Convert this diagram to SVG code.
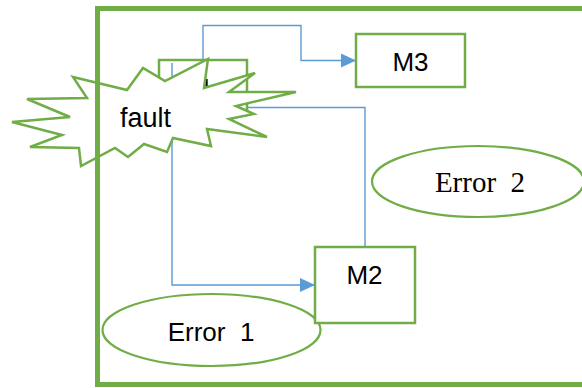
<svg xmlns="http://www.w3.org/2000/svg" width="582" height="388" viewBox="0 0 582 388">
<style>
.box{fill:#fff;stroke:#70AD47;stroke-width:2.5}
.ell{fill:#fff;stroke:#70AD47;stroke-width:2.2}
.con{fill:none;stroke:#5B9BD5;stroke-width:1.4}
.sans{font-family:"Liberation Sans",Arial,sans-serif;font-size:26px;fill:#000}
.serif{font-family:"Liberation Serif","Times New Roman",serif;font-size:29px;fill:#000}
</style>
<defs>
<marker id="arr" viewBox="0 0 15 14" refX="15" refY="7" markerWidth="15" markerHeight="14" markerUnits="userSpaceOnUse" orient="auto">
<path d="M0,0 L15,7 L0,14 Z" fill="#5B9BD5"/>
</marker>
</defs>
<rect width="582" height="388" fill="#fff"/>
<g id="error2">
<ellipse class="ell" cx="478" cy="181.5" rx="106" ry="35.5"/>
<text class="serif" x="480" y="192" text-anchor="middle" xml:space="preserve">Error  2</text>
</g>
<g id="error1">
<ellipse class="ell" cx="211.5" cy="330" rx="109" ry="36"/>
<text class="sans" x="211" y="341" text-anchor="middle" xml:space="preserve">Error  1</text>
</g>
<g id="M3">
<rect class="box" x="356" y="34" width="109" height="53"/>
<text class="sans" x="410.5" y="71" text-anchor="middle">M3</text>
</g>
<g id="M2">
<rect class="box" x="315" y="247" width="100" height="76"/>
<text class="sans" x="364.5" y="284" text-anchor="middle">M2</text>
</g>
<g id="M1">
<rect class="box" x="159" y="60" width="88" height="53"/>
<text class="sans" x="177" y="97">M1</text>
</g>
<g id="connectors">
<path class="con" d="M203,60 V25.5 H301 V60.5 H356" marker-end="url(#arr)"/>
<path class="con" d="M247,107.5 H365 V247"/>
<path class="con" d="M172,63 V285 H315" marker-end="url(#arr)"/>
</g>
<g id="fault">
<polygon points="73,77 127,90 143,68 165,81 208,59 204,88 255,73 229,92 296,92 236,106 254,114 229,119 267,137 207,129 211,146 173,138 167,152 144,144 128,157 115,148 81,166 79,148 30,147 62,135 12,122 70,117 27,99 87,98" fill="#fff" stroke="#70AD47" stroke-width="2.5" stroke-linejoin="miter"/>
<text class="sans" x="145.5" y="127" text-anchor="middle" style="font-size:27px">fault</text>
</g>
<g id="frame">
<rect x="97.5" y="8.5" width="500" height="376" fill="none" stroke="#70AD47" stroke-width="5"/>
</g>
</svg>
